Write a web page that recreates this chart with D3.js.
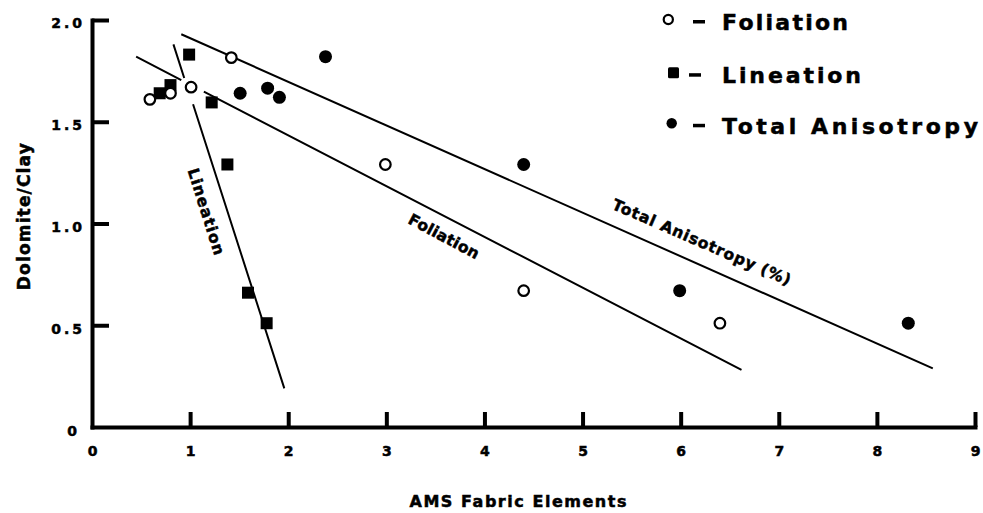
<!DOCTYPE html>
<html>
<head>
<meta charset="utf-8">
<script src="https://cdn.jsdelivr.net/npm/d3@7"></script>
<style>
  body { margin: 0; background: #fff; }
  text { font-family: "DejaVu Sans", "Liberation Sans", Arial, sans-serif; font-weight: bold; fill: #000; stroke: #000; stroke-width: 0.5px; }
</style>
</head>
<body>
<svg id="chart"></svg>
<script>
// measured points
var foliationX = [0.59, 0.80, 1.01, 1.42, 2.99, 4.40, 6.40];
var foliationY = [1.61, 1.64, 1.67, 1.815, 1.29, 0.67, 0.51];
var lineationX = [0.69, 0.80, 0.99, 1.22, 1.38, 1.59, 1.78];
var lineationY = [1.64, 1.68, 1.83, 1.595, 1.29, 0.66, 0.51];
var totalX = [1.51, 1.79, 1.91, 2.38, 4.40, 5.99, 8.32];
var totalY = [1.64, 1.665, 1.62, 1.82, 1.29, 0.67, 0.51];

// hand-drawn fit lines (null = break in the line)
var lineationFitX = [0.83, 0.94, null, 1.03, 1.96];
var lineationFitY = [1.88, 1.715, null, 1.586, 0.19];
var foliationFitX = [0.45, 0.91, null, 1.14, 6.62];
var foliationFitY = [1.82, 1.705, null, 1.648, 0.281];
var totalFitX = [0.91, 8.57];
var totalFitY = [1.93, 0.288];

var xTickValues = [0, 1, 2, 3, 4, 5, 6, 7, 8, 9];
var yTickValues = [0, 0.5, 1.0, 1.5, 2.0];
var yTickLabels = ['0', '0.5', '1.0', '1.5', '2.0'];
var legendNames = ['Foliation', 'Lineation', 'Total Anisotropy'];
var lineLabels = ['Lineation', 'Foliation', 'Total Anisotropy (%)'];

var svg = d3.select('#chart').attr('width', 983).attr('height', 513);

var x = d3.scaleLinear().domain([0, 9]).range([92, 975]);
var y = d3.scaleLinear().domain([0, 2]).range([427, 20]);

function zip(xs, ys) {
    return xs.map(function(d, i) { return [d, ys[i]]; });
}

// axes
var yAxis = d3.axisLeft(y)
    .tickValues(yTickValues)
    .tickFormat(function(d, i) { return yTickLabels[i]; })
    .tickSize(-17)
    .tickSizeOuter(0)
    .tickPadding(7);

var yGuide = svg.append('g').attr('transform', 'translate(92,0)').call(yAxis);
yGuide.attr('font-family', null).attr('font-size', null);
yGuide.select('.domain').attr('stroke-width', 4).attr('stroke-linecap', 'square');
yGuide.selectAll('.tick line').attr('stroke-width', 4);
yGuide.selectAll('.tick text')
    .style('font-size', '14px')
    .attr('letter-spacing', 3)
    .attr('dy', '0.57em');
yGuide.selectAll('.tick text').filter(function(d) { return d === 0; })
    .attr('letter-spacing', 0)
    .attr('x', -15)
    .attr('dy', '0.6em');
yGuide.selectAll('.tick line').filter(function(d) { return d === 0; }).remove();

var xAxis = d3.axisBottom(x)
    .tickValues(xTickValues)
    .tickSize(-15)
    .tickSizeOuter(0)
    .tickPadding(19);

var xGuide = svg.append('g').attr('transform', 'translate(0,427)').call(xAxis);
xGuide.attr('font-family', null).attr('font-size', null);
xGuide.select('.domain').attr('stroke-width', 4).attr('stroke-linecap', 'square');
xGuide.selectAll('.tick line').attr('stroke-width', 4);
xGuide.selectAll('.tick text').style('font-size', '14px');
xGuide.selectAll('.tick line').filter(function(d) { return d === 0; }).remove();

// axis titles
svg.append('text')
    .attr('x', 518).attr('y', 507)
    .attr('text-anchor', 'middle')
    .style('font-size', '16px')
    .attr('textLength', 217).attr('lengthAdjust', 'spacing')
    .text('AMS Fabric Elements');

svg.append('text')
    .attr('transform', 'translate(30,216.7) rotate(-90)')
    .attr('text-anchor', 'middle')
    .style('font-size', '17px')
    .attr('textLength', 147).attr('lengthAdjust', 'spacing')
    .text('Dolomite/Clay');

// fit lines
var line = d3.line()
    .defined(function(d) { return d[0] !== null; })
    .x(function(d) { return x(d[0]); })
    .y(function(d) { return y(d[1]); });

[zip(lineationFitX, lineationFitY), zip(foliationFitX, foliationFitY), zip(totalFitX, totalFitY)]
    .forEach(function(pts) {
        svg.append('path')
            .attr('d', line(pts))
            .attr('fill', 'none')
            .attr('stroke', '#000')
            .attr('stroke-width', 2);
    });

// line labels: anchor in data units, angle, length
var labelPos = [
    { x: 1.16, y: 1.058, angle: 72.5, len: 90 },
    { x: 3.585, y: 0.935, angle: 28, len: 78 },
    { x: 6.213, y: 0.907, angle: 23.5, len: 193 }
];
lineLabels.forEach(function(t, i) {
    var p = labelPos[i];
    svg.append('text')
        .attr('transform', 'translate(' + x(p.x) + ',' + y(p.y) + ') rotate(' + p.angle + ')')
        .attr('text-anchor', 'middle')
        .attr('dominant-baseline', 'central')
        .style('font-size', '15.5px')
        .attr('textLength', p.len).attr('lengthAdjust', 'spacing')
        .text(t);
});

// markers
svg.append('g').selectAll('rect')
    .data(zip(lineationX, lineationY))
    .enter().append('rect')
    .attr('x', function(d) { return x(d[0]) - 6; })
    .attr('y', function(d) { return y(d[1]) - 6; })
    .attr('width', 12).attr('height', 12)
    .attr('fill', '#000');

svg.append('g').selectAll('circle')
    .data(zip(totalX, totalY))
    .enter().append('circle')
    .attr('cx', function(d) { return x(d[0]); })
    .attr('cy', function(d) { return y(d[1]); })
    .attr('r', 6.5)
    .attr('fill', '#000');

svg.append('g').selectAll('circle')
    .data(zip(foliationX, foliationY))
    .enter().append('circle')
    .attr('cx', function(d) { return x(d[0]); })
    .attr('cy', function(d) { return y(d[1]); })
    .attr('r', 5.3)
    .attr('fill', '#fff')
    .attr('stroke', '#000')
    .attr('stroke-width', 2.2);

// legend
var legendRowY = [19.5, 72.7, 123.3];
var legendNameW = [126, 139, 256];
var legend = svg.append('g');
legend.append('circle')
    .attr('cx', 668.3).attr('cy', legendRowY[0]).attr('r', 4.6)
    .attr('fill', '#fff').attr('stroke', '#000').attr('stroke-width', 2.2);
legend.append('rect')
    .attr('x', 668).attr('y', legendRowY[1] - 5.5)
    .attr('width', 11).attr('height', 11).attr('rx', 1.5)
    .attr('fill', '#000');
legend.append('circle')
    .attr('cx', 671.7).attr('cy', legendRowY[2]).attr('r', 5.2)
    .attr('fill', '#000');

legendNames.forEach(function(name, i) {
    legend.append('rect')
        .attr('x', i === 1 ? 689 : 693).attr('y', legendRowY[i] + 0.5)
        .attr('width', 12).attr('height', 3.5)
        .attr('fill', '#000');
    legend.append('text')
        .attr('x', 722).attr('y', legendRowY[i] + 10.5)
        .style('font-size', '22px')
        .attr('textLength', legendNameW[i]).attr('lengthAdjust', 'spacing')
        .text(name);
});
</script>
</body>
</html>
